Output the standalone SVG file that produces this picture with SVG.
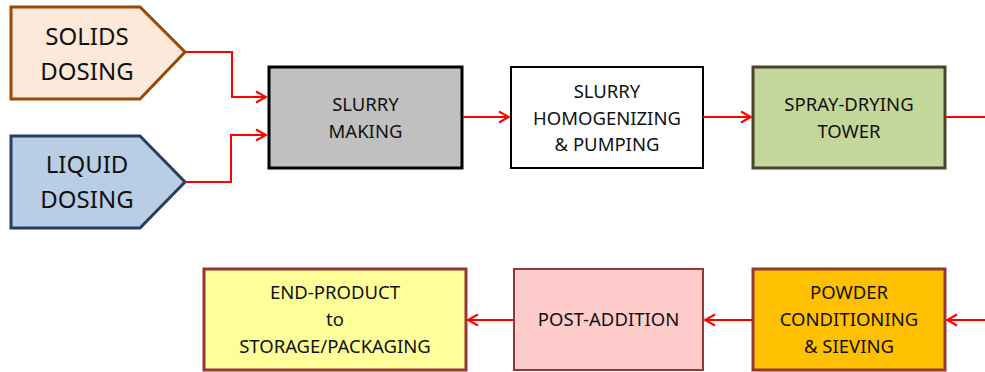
<svg xmlns="http://www.w3.org/2000/svg" width="985" height="372" viewBox="0 0 985 372">
<defs>
<marker id="arr" markerWidth="14" markerHeight="14" refX="12" refY="7" orient="auto" markerUnits="userSpaceOnUse">
<path d="M2,1.5 L12,7 L2,12.5" fill="none" stroke="#ff0000" stroke-width="2"/>
</marker>
</defs>
<style>
text{font-family:"Noto Sans","Open Sans","Liberation Sans",sans-serif;fill:#111;text-anchor:middle}
.big{font-size:24px}
.sm{font-size:18.5px}
.c{fill:none;stroke:#ff0000;stroke-width:2}
</style>
<rect width="985" height="372" fill="#ffffff"/>
<g id="solids-dosing">
<polygon points="11,7 140,7 185,52 140,99 11,99" fill="#fde9d9" stroke="#984807" stroke-width="3"/>
<text class="big" x="87" y="44.5">SOLIDS</text>
<text class="big" x="87" y="79.5">DOSING</text>
</g>
<g id="liquid-dosing">
<polygon points="11,136 140,136 185,182 140,228 11,228" fill="#b9cde5" stroke="#243f60" stroke-width="3"/>
<text class="big" x="87" y="172.5">LIQUID</text>
<text class="big" x="87" y="207.5">DOSING</text>
</g>
<g id="slurry-making">
<rect x="269" y="67" width="193" height="101" fill="#c0c0c0" stroke="#000" stroke-width="3"/>
<text class="sm" x="365.5" y="111">SLURRY</text>
<text class="sm" x="365.5" y="138">MAKING</text>
</g>
<g id="slurry-homogenizing">
<rect x="511" y="67" width="192" height="101" fill="#ffffff" stroke="#000" stroke-width="2"/>
<text class="sm" x="607" y="98">SLURRY</text>
<text class="sm" x="607" y="124.5">HOMOGENIZING</text>
<text class="sm" x="607" y="151">&amp; PUMPING</text>
</g>
<g id="spray-drying">
<rect x="753" y="67" width="192" height="101" fill="#c4d79b" stroke="#4a452a" stroke-width="3"/>
<text class="sm" x="849" y="111">SPRAY-DRYING</text>
<text class="sm" x="849" y="138">TOWER</text>
</g>
<g id="powder-conditioning">
<rect x="753" y="269" width="192" height="101" fill="#ffc000" stroke="#953735" stroke-width="3"/>
<text class="sm" x="849" y="299">POWDER</text>
<text class="sm" x="849" y="326">CONDITIONING</text>
<text class="sm" x="849" y="353">&amp; SIEVING</text>
</g>
<g id="post-addition">
<rect x="514" y="269" width="189" height="101" fill="#ffcccc" stroke="#953735" stroke-width="2"/>
<text class="sm" x="608.5" y="326">POST-ADDITION</text>
</g>
<g id="end-product">
<rect x="204" y="269" width="262" height="101" fill="#ffff99" stroke="#953735" stroke-width="3"/>
<text class="sm" x="335" y="299">END-PRODUCT</text>
<text class="sm" x="335" y="326">to</text>
<text class="sm" x="335" y="353">STORAGE/PACKAGING</text>
</g>
<g id="connectors">
<polyline class="c" points="185,52 232,52 232,97 266,97" marker-end="url(#arr)"/>
<polyline class="c" points="185,182 231,182 231,135 266,135" marker-end="url(#arr)"/>
<line class="c" x1="463" y1="117" x2="509" y2="117" marker-end="url(#arr)"/>
<line class="c" x1="703" y1="117" x2="751" y2="117" marker-end="url(#arr)"/>
<line class="c" x1="946" y1="117" x2="985" y2="117"/>
<line class="c" x1="985" y1="320" x2="947" y2="320" marker-end="url(#arr)"/>
<line class="c" x1="752" y1="320" x2="705" y2="320" marker-end="url(#arr)"/>
<line class="c" x1="513" y1="320" x2="468" y2="320" marker-end="url(#arr)"/>
</g>
</svg>
